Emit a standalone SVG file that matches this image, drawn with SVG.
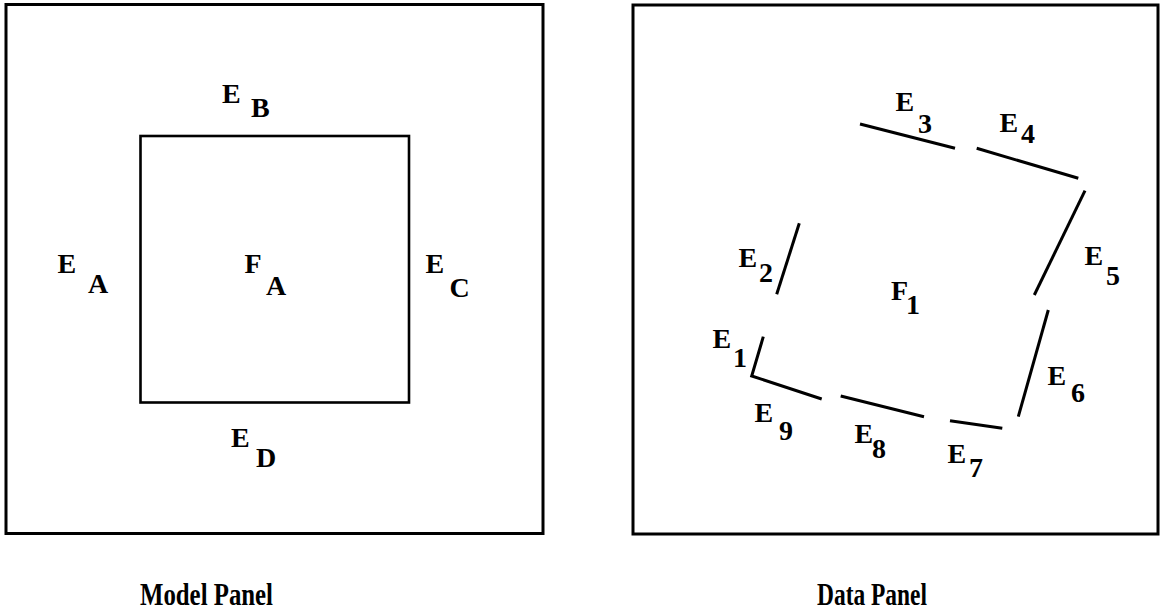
<svg xmlns="http://www.w3.org/2000/svg" width="1162" height="611" viewBox="0 0 1162 611">
  <style>
    .frame { fill: none; stroke: #000; stroke-width: 3; }
    .box { fill: none; stroke: #000; stroke-width: 2.6; }
    .seg { fill: none; stroke: #000; stroke-width: 3; stroke-linecap: butt; }
    .lbl { font-family: "Liberation Serif", "Times New Roman", serif; font-weight: bold; font-size: 28px; fill: #000; }
    .cap { font-family: "Liberation Serif", "Times New Roman", serif; font-weight: bold; font-size: 31px; fill: #000; }
  </style>
  <rect x="0" y="0" width="1162" height="611" fill="#fff"/>

  <!-- Model panel -->
  <g id="model-panel">
    <rect class="frame" x="6" y="4.5" width="537" height="529"/>
    <g id="region-FA">
      <rect class="box" x="140.5" y="136" width="268.5" height="266.5"/>
      <text class="lbl"><tspan x="244.5" y="273">F</tspan><tspan x="266" y="295">A</tspan></text>
    </g>
    <g id="edge-EB"><text class="lbl"><tspan x="222" y="103">E</tspan><tspan x="251" y="117">B</tspan></text></g>
    <g id="edge-EA"><text class="lbl"><tspan x="57.5" y="273">E</tspan><tspan x="88" y="293">A</tspan></text></g>
    <g id="edge-EC"><text class="lbl"><tspan x="425.5" y="273">E</tspan><tspan x="449.5" y="297">C</tspan></text></g>
    <g id="edge-ED"><text class="lbl"><tspan x="231" y="447">E</tspan><tspan x="256" y="467">D</tspan></text></g>
  </g>
  <text class="cap" x="140" y="605" textLength="133" lengthAdjust="spacingAndGlyphs">Model Panel</text>

  <!-- Data panel -->
  <g id="data-panel">
    <rect class="frame" x="633" y="5" width="525" height="529"/>
  </g>

  <g id="connectors">
    <line class="seg" id="seg-E3" x1="860" y1="124" x2="955" y2="148.3"/>
    <line class="seg" id="seg-E4" x1="976.7" y1="148.3" x2="1078.3" y2="178.3"/>
    <line class="seg" id="seg-E5" x1="1085" y1="190.7" x2="1034.3" y2="295"/>
    <line class="seg" id="seg-E6" x1="1048.3" y1="310" x2="1018.3" y2="416.7"/>
    <line class="seg" id="seg-E7" x1="950" y1="420.7" x2="1002.3" y2="428.3"/>
    <line class="seg" id="seg-E8" x1="840.7" y1="396" x2="924" y2="416.7"/>
    <polyline class="seg" id="seg-E1-E9" points="763.3,336.7 751.7,376 821.7,399"/>
    <line class="seg" id="seg-E2" x1="799.3" y1="223.3" x2="776.7" y2="294.3"/>
  </g>

  <g id="label-F1"><text class="lbl"><tspan x="891" y="300">F</tspan><tspan x="906" y="314">1</tspan></text></g>
  <g id="label-E1"><text class="lbl"><tspan x="712.5" y="348">E</tspan><tspan x="733" y="367">1</tspan></text></g>
  <g id="label-E2"><text class="lbl"><tspan x="738.5" y="267">E</tspan><tspan x="759" y="282">2</tspan></text></g>
  <g id="label-E3"><text class="lbl"><tspan x="895.5" y="111">E</tspan><tspan x="918" y="133">3</tspan></text></g>
  <g id="label-E4"><text class="lbl"><tspan x="999.5" y="132">E</tspan><tspan x="1021" y="143">4</tspan></text></g>
  <g id="label-E5"><text class="lbl"><tspan x="1084.5" y="265">E</tspan><tspan x="1106" y="285">5</tspan></text></g>
  <g id="label-E6"><text class="lbl"><tspan x="1047.5" y="385">E</tspan><tspan x="1071" y="402">6</tspan></text></g>
  <g id="label-E7"><text class="lbl"><tspan x="947.5" y="463">E</tspan><tspan x="969" y="477">7</tspan></text></g>
  <g id="label-E8"><text class="lbl"><tspan x="854.5" y="443">E</tspan><tspan x="872" y="458">8</tspan></text></g>
  <g id="label-E9"><text class="lbl"><tspan x="754.5" y="422">E</tspan><tspan x="779" y="440">9</tspan></text></g>
  <text class="cap" x="817" y="605" textLength="110" lengthAdjust="spacingAndGlyphs">Data Panel</text>
</svg>
